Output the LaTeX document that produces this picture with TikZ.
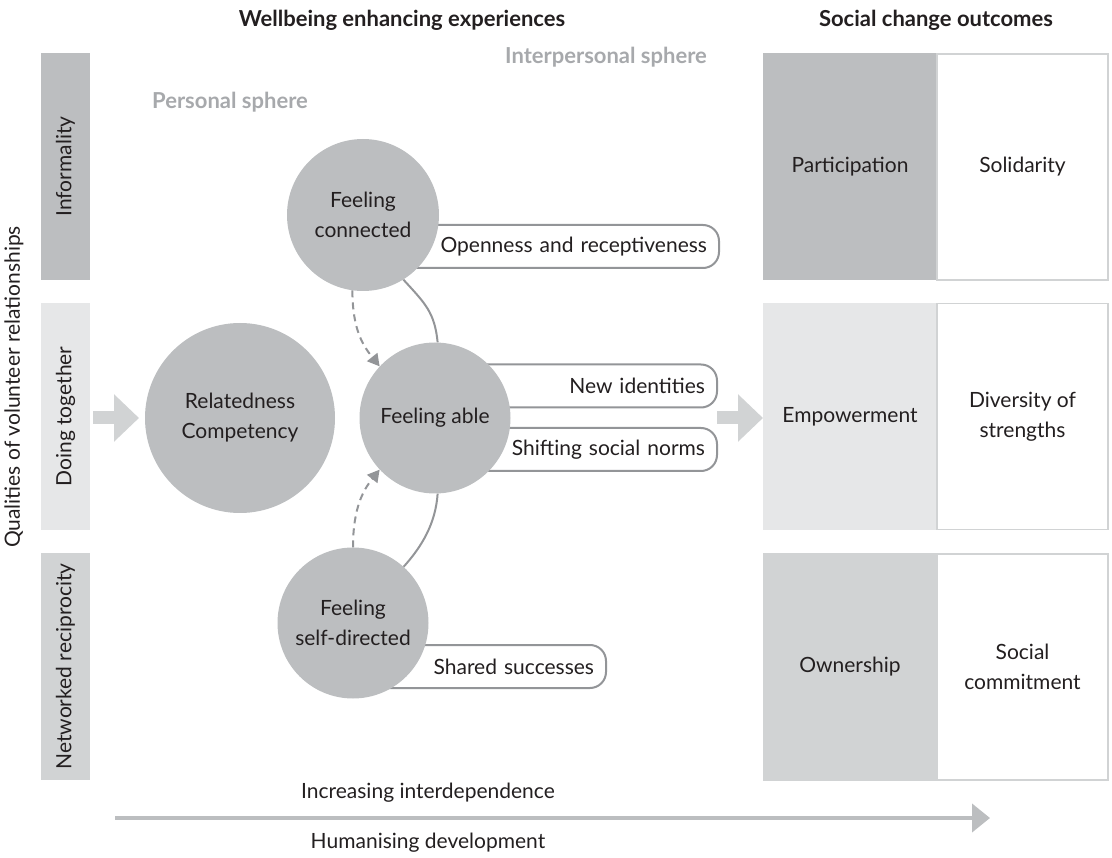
\documentclass[tikz,border=0pt]{standalone}
\usepackage{fontspec}
\setmainfont{Lato}
\usetikzlibrary{arrows.meta}
\definecolor{ink}{HTML}{231F20}
\definecolor{midgray}{HTML}{BCBEC0}
\definecolor{palegray}{HTML}{E6E7E8}
\definecolor{softgray}{HTML}{D1D3D4}
\definecolor{linegray}{HTML}{939598}
\definecolor{spheregray}{HTML}{A7A9AC}
\begin{document}
\begin{tikzpicture}[x=1pt,y=-1pt,
  font=\fontsize{21}{30}\selectfont, text=ink,
  bubble/.style={circle, fill=midgray, minimum size=#1, inner sep=0pt, align=center},
  pill/.style={draw=linegray, line width=2pt, rounded corners=16pt, fill=white,
    minimum height=43pt, anchor=east, inner xsep=12pt, align=right, text width=#1},
  sidebar/.style={rotate=90, minimum width=227pt, minimum height=49pt, inner sep=0pt},
  outbox/.style={minimum width=174pt, minimum height=227pt, inner sep=0pt, align=center},
  openbox/.style={draw=softgray, line width=1.5pt, fill=white, minimum width=171pt,
    minimum height=226pt, inner sep=0pt, align=center},
  heading/.style={font=\fontsize{22}{26}\selectfont\bfseries},
  sphere/.style={font=\fontsize{22}{26}\selectfont\bfseries, text=spheregray},
  dasharrow/.style={draw=linegray, line width=2pt, dash pattern=on 7pt off 5pt,
    -{Triangle[length=12pt,width=13pt]}},
  link/.style={draw=linegray, line width=2pt},
  blockarrow/.style={draw=softgray, line width=13pt, -{Triangle[length=25pt,width=46pt]}},
  devarrow/.style={draw=midgray, line width=4pt, -{Triangle[length=18pt,width=28pt]}}
]
\useasboundingbox (0,0) rectangle (1112,858);

% column headings and sphere labels
\node[heading] (hwell) at (402,20) {Wellbeing enhancing experiences};
\node[heading] (hsoc) at (936,20) {Social change outcomes};
\node[sphere] (inter) at (606,57) {Interpersonal sphere};
\node[sphere] (pers) at (230,102) {Personal sphere};

% qualities of relationships (left column)
\node[rotate=90] (qual) at (14,387) {Qualities of volunteer relationships};
\node[sidebar, fill=midgray] (inf) at (65.5,166.5) {Informality};
\node[sidebar, fill=palegray] (doing) at (65.5,416.5) {Doing together};
\node[sidebar, fill=softgray] (netw) at (65.5,666.5) {Networked reciprocity};

% social change outcomes (right column)
\node[outbox, fill=midgray] (part) at (850,167) {Participation};
\node[openbox] (soli) at (1022.5,167) {Solidarity};
\node[outbox, fill=palegray] (emp) at (850,416.5) {Empowerment};
\node[openbox] (div) at (1022.5,416.5) {Diversity of\\strengths};
\node[outbox, fill=softgray] (own) at (850,667) {Ownership};
\node[openbox] (comm) at (1022.5,667) {Social\\commitment};

% experience tags, partly tucked behind the bubbles
\node[pill=333pt] (open) at (720,246.5) {Openness and receptiveness};
\node[pill=259pt] (ident) at (718,386) {New identities};
\node[pill=259pt] (norms) at (718,449.5) {Shifting social norms};
\node[pill=230pt] (share) at (607,666.5) {Shared successes};

% wellbeing bubbles
\node[bubble=190pt] (rel) at (240,418) {Relatedness\\Competency};
\node[bubble=152pt] (fc) at (363,215) {Feeling\\connected};
\node[bubble=151pt] (fa) at (435,418) {Feeling able};
\node[bubble=151pt] (fsd) at (353,623) {Feeling\\self-directed};

% links between the bubbles
\draw[dasharrow] (fc.-98) .. controls +(0,40) and +(-16,-20) .. (fa.137);
\draw[dasharrow] (fsd.90) .. controls +(0,-40) and +(-16,20) .. (fa.223);
\draw[link] (fc.-58) .. controls +(22,24) and +(-3,-30) .. (fa.88);
\draw[link] (fa.-88) .. controls +(-2,30) and +(18,-20) .. (fsd.48);

% flow arrows
\coordinate (lin) at (93,418);
\coordinate (lout) at (139,418);
\draw[blockarrow] (lin) -- (lout);
\coordinate (min) at (717,418);
\coordinate (mout) at (763,418);
\draw[blockarrow] (min) -- (mout);

% development axis
\coordinate (dstart) at (115,818);
\coordinate (dend) at (990,818);
\draw[devarrow] (dstart) -- (dend);
\node (incr) at (428,793) {Increasing interdependence};
\node (human) at (428,843) {Humanising development};
\end{tikzpicture}
\end{document}
